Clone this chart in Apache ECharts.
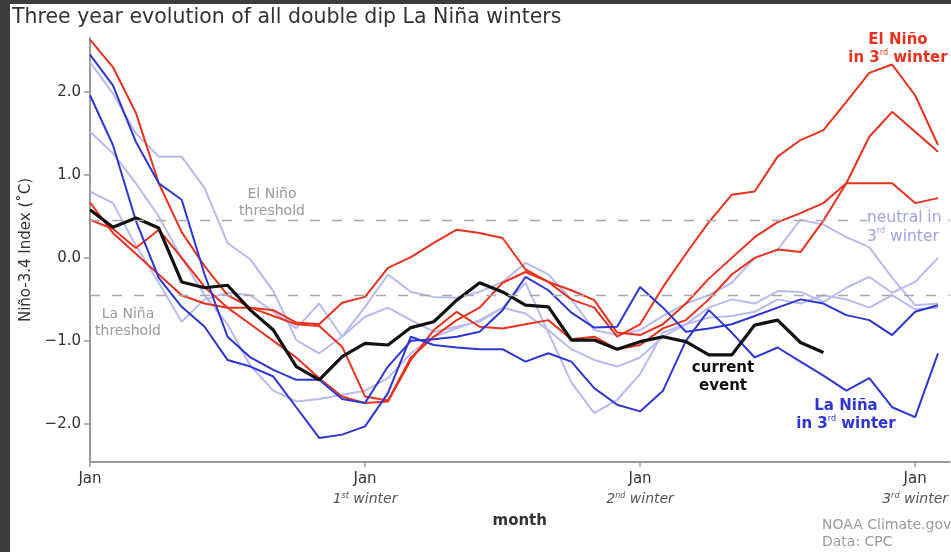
<!DOCTYPE html>
<html>
<head>
<meta charset="utf-8">
<script src="https://cdn.jsdelivr.net/npm/echarts@6/dist/echarts.min.js"></script>
<style>
  html, body { margin: 0; padding: 0; background: #3d3d3d; }
  #chart { position: absolute; left: 10px; top: 4px; width: 941px; height: 548px; background: #fff; }
</style>
</head>
<body>
<div id="chart"></div>
<script>
// month index 0 = Jan of the first year, Jan ticks every 12 months
const xTicks = [0, 12, 24, 36];
const xTickLabels = ['Jan', 'Jan', 'Jan', 'Jan'];
const winterNums = ['', '1', '2', '3'];
const winterSups = ['', 'st', 'nd', 'rd'];
const yTicks = [-2, -1, 0, 1, 2];
const thresholds = [0.45, -0.45];

// El Niño in 3rd winter
const elNino1 = [2.63, 2.3, 1.75, 0.9, 0.31, -0.1, -0.45, -0.6, -0.7, -0.8, -0.82, -1.07, -1.67, -1.72, -1.2, -0.95, -0.75, -0.6, -0.3, -0.17, -0.29, -0.5, -0.6, -0.95, -0.8, -0.35, 0.05, 0.43, 0.76, 0.8, 1.22, 1.42, 1.54, 1.88, 2.23, 2.33, 1.96, 1.36];
const elNino2 = [0.67, 0.3, 0.05, -0.2, -0.45, -0.55, -0.6, -0.6, -0.63, -0.78, -0.8, -0.54, -0.47, -0.12, 0.01, 0.18, 0.34, 0.3, 0.24, -0.14, -0.29, -0.39, -0.51, -0.9, -0.93, -0.8, -0.55, -0.25, 0.0, 0.25, 0.43, 0.54, 0.66, 0.9, 0.9, 0.9, 0.66, 0.72];
const elNino3 = [0.46, 0.35, 0.12, 0.34, 0.0, -0.35, -0.6, -0.8, -1.0, -1.2, -1.45, -1.67, -1.75, -1.73, -1.23, -0.87, -0.65, -0.83, -0.85, -0.8, -0.75, -0.98, -0.95, -1.1, -1.05, -0.85, -0.75, -0.5, -0.2, 0.0, 0.1, 0.07, 0.45, 0.9, 1.46, 1.76, 1.52, 1.28];
// La Niña in 3rd winter
const laNina1 = [2.45, 2.08, 1.4, 0.9, 0.7, -0.2, -0.95, -1.2, -1.35, -1.47, -1.47, -1.7, -1.75, -1.31, -1.0, -0.98, -0.95, -0.89, -0.63, -0.23, -0.39, -0.66, -0.84, -0.83, -0.35, -0.6, -0.89, -0.85, -0.8, -0.7, -0.6, -0.5, -0.55, -0.69, -0.75, -0.93, -0.65, -0.57];
const laNina2 = [1.96, 1.36, 0.45, -0.24, -0.59, -0.83, -1.23, -1.31, -1.43, -1.8, -2.17, -2.13, -2.03, -1.63, -0.95, -1.05, -1.08, -1.1, -1.1, -1.25, -1.15, -1.25, -1.57, -1.77, -1.85, -1.6, -1.0, -0.63, -0.9, -1.2, -1.08, -1.25, -1.42, -1.6, -1.45, -1.8, -1.92, -1.15];
// neutral in 3rd winter
const neutral1 = [2.36, 1.98, 1.5, 1.22, 1.22, 0.84, 0.18, -0.02, -0.4, -0.99, -1.15, -0.95, -0.59, -0.2, -0.41, -0.47, -0.48, -0.41, -0.29, -0.06, -0.2, -0.5, -0.87, -0.93, -0.87, -0.7, -0.55, -0.45, -0.3, 0.0, 0.1, 0.46, 0.4, 0.25, 0.13, -0.24, -0.57, -0.55];
const neutral2 = [1.52, 1.26, 0.9, 0.5, 0.0, -0.45, -0.8, -1.3, -1.6, -1.73, -1.7, -1.65, -1.6, -1.45, -1.15, -0.95, -0.85, -0.75, -0.6, -0.3, -0.9, -1.5, -1.87, -1.71, -1.4, -0.9, -0.8, -0.6, -0.5, -0.55, -0.4, -0.41, -0.53, -0.36, -0.23, -0.42, -0.29, 0.0];
const neutral3 = [0.8, 0.66, 0.15, -0.3, -0.77, -0.5, -0.42, -0.45, -0.65, -0.85, -0.55, -0.95, -0.71, -0.6, -0.75, -0.89, -0.83, -0.77, -0.6, -0.67, -0.87, -1.1, -1.23, -1.31, -1.2, -0.95, -0.8, -0.72, -0.7, -0.65, -0.5, -0.55, -0.45, -0.5, -0.6, -0.45, -0.62, -0.6];
// current event
const current = [0.58, 0.37, 0.48, 0.36, -0.29, -0.36, -0.33, -0.63, -0.87, -1.31, -1.47, -1.19, -1.03, -1.05, -0.84, -0.77, -0.51, -0.3, -0.41, -0.57, -0.59, -0.99, -0.99, -1.1, -1.01, -0.95, -1.01, -1.17, -1.17, -0.81, -0.75, -1.02, -1.14];

const RED = '#e8321e';
const BLUE = '#2d36d2';
const LIGHT = '#b8bbee';
const FONT = 'DejaVu Sans';

const toPts = (arr) => arr.map((v, i) => [i, v]);

function line(name, arr, color, width) {
  return {
    name: name,
    type: 'line',
    data: toPts(arr),
    symbol: 'none',
    smooth: false,
    lineStyle: { color: color, width: width },
    z: 3
  };
}

const chart = echarts.init(document.getElementById('chart'));

const series = [
  {
    type: 'line',
    data: [],
    markLine: {
      silent: true,
      symbol: 'none',
      label: { show: false },
      lineStyle: { color: '#a8a8a8', type: [10, 12], width: 1.3 },
      data: thresholds.map((t) => ({ yAxis: t }))
    }
  },
  line('neutral1', neutral1, LIGHT, 2),
  line('neutral2', neutral2, LIGHT, 2),
  line('neutral3', neutral3, LIGHT, 2),
  line('elNino1', elNino1, RED, 2),
  line('elNino2', elNino2, RED, 2),
  line('elNino3', elNino3, RED, 2),
  line('laNina1', laNina1, BLUE, 2),
  line('laNina2', laNina2, BLUE, 2),
  Object.assign(line('current', current, '#111', 3.2), { z: 4 })
];

const option = {
  animation: false,
  textStyle: { fontFamily: FONT },
  grid: { left: 80, right: 1, top: 34, bottom: 90 },
  xAxis: {
    type: 'value',
    min: 0,
    max: 37.5,
    name: 'month',
    nameLocation: 'middle',
    nameGap: 40,
    nameTextStyle: { color: '#333', fontSize: 15, fontWeight: 'bold', fontFamily: FONT },
    axisLine: { onZero: false, lineStyle: { color: '#9a9a9a', width: 2 } },
    axisTick: { customValues: xTicks, length: 5, lineStyle: { color: '#9a9a9a', width: 1.5 } },
    splitLine: { show: false },
    axisLabel: {
      customValues: xTicks,
      margin: 7,
      lineHeight: 20,
      formatter: function (val) {
        const k = xTicks.indexOf(val);
        if (k < 0) return '';
        if (!winterNums[k]) return '{jan|' + xTickLabels[k] + '}';
        return '{jan|' + xTickLabels[k] + '}\n{it|' + winterNums[k] + '}{sup|' + winterSups[k] + '}{it| winter}';
      },
      rich: {
        jan: { color: '#333', fontSize: 15, fontFamily: FONT, lineHeight: 20 },
        it: { color: '#555', fontSize: 14, fontStyle: 'italic', fontFamily: FONT, lineHeight: 20 },
        sup: { color: '#555', fontSize: 8, fontStyle: 'italic', fontFamily: FONT, verticalAlign: 'top', lineHeight: 20, padding: [3, 0, 0, 0] }
      }
    }
  },
  yAxis: {
    type: 'value',
    min: -2.46,
    max: 2.65,
    name: 'Niño-3.4 Index (˚C)',
    nameLocation: 'middle',
    nameGap: 48,
    nameTextStyle: { color: '#333', fontSize: 15, fontFamily: FONT },
    axisLine: { show: true, onZero: false, lineStyle: { color: '#9a9a9a', width: 2 } },
    axisTick: { show: true, customValues: yTicks, length: 6, lineStyle: { color: '#9a9a9a', width: 1.5 } },
    splitLine: { show: false },
    axisLabel: {
      customValues: yTicks,
      color: '#333',
      fontSize: 15,
      margin: 9,
      formatter: (v) => (v < 0 ? '\u2212' + Math.abs(v).toFixed(1) : v.toFixed(1))
    }
  },
  graphic: [
    { type: 'text', left: 2, top: 3, style: { text: 'Three year evolution of all double dip La Niña winters', fill: '#333', font: '20.5px "DejaVu Sans"' } },
    { type: 'text', x: 262, y: 182, style: { text: 'El Niño\nthreshold', fill: '#9a9a9a', font: '14px "DejaVu Sans"', align: 'center', lineHeight: 17 } },
    { type: 'text', x: 118, y: 302, style: { text: 'La Niña\nthreshold', fill: '#9a9a9a', font: '14px "DejaVu Sans"', align: 'center', lineHeight: 17 } },
    {
      type: 'text', x: 888, y: 27, z: 10,
      style: {
        text: '{b|El Niño}\n{b|in 3}{s|rd}{b| winter}', align: 'center', fill: RED,
        rich: { b: { fontSize: 15, fontWeight: 'bold', fill: RED, fontFamily: FONT, lineHeight: 18 }, s: { fontSize: 8, fill: RED, fontFamily: FONT, verticalAlign: 'top', lineHeight: 18 } }
      }
    },
    {
      type: 'text', x: 857, y: 204, z: 10,
      style: {
        text: '{b|neutral in}\n{b|3}{s|rd}{b| winter}', fill: '#9ea3e6', backgroundColor: '#fff',
        rich: { b: { fontSize: 15.5, fill: '#9ea3e6', fontFamily: FONT, lineHeight: 19 }, s: { fontSize: 8, fill: '#9ea3e6', fontFamily: FONT, verticalAlign: 'top', lineHeight: 19 } }
      }
    },
    { type: 'text', x: 713, y: 355, z: 10, style: { text: 'current\nevent', fill: '#111', font: 'bold 15px "DejaVu Sans"', align: 'center', lineHeight: 18 } },
    {
      type: 'text', x: 836, y: 393, z: 10,
      style: {
        text: '{b|La Niña}\n{b|in 3}{s|rd}{b| winter}', align: 'center', fill: BLUE,
        rich: { b: { fontSize: 15, fontWeight: 'bold', fill: BLUE, fontFamily: FONT, lineHeight: 18 }, s: { fontSize: 8, fill: BLUE, fontFamily: FONT, verticalAlign: 'top', lineHeight: 18 } }
      }
    },
    { type: 'text', x: 812, y: 513, style: { text: 'NOAA Climate.gov\nData: CPC', fill: '#9a9a9a', font: '14px "DejaVu Sans"', lineHeight: 17 } }
  ],
  series: series
};

chart.setOption(option);
window.addEventListener('resize', () => chart.resize());
</script>
</body>
</html>
